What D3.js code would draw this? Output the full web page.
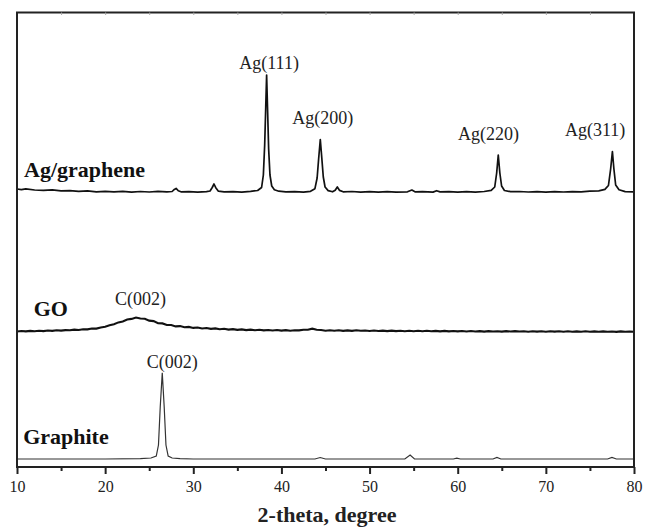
<!DOCTYPE html>
<html>
<head>
<meta charset="utf-8">
<script src="https://cdn.jsdelivr.net/npm/d3@7"></script>
<style>
  body { margin: 0; background: #fff; }
  svg { display: block; }
  svg text { font-family: "Liberation Serif", "Tinos", "Times New Roman", "Noto Serif", "DejaVu Serif", serif; }
</style>
</head>
<body>
<div id="vis"></div>
<script>
// ---------------------------------- DATA ---------------------------------------------------
// XRD patterns, intensity in arbitrary units (traces stacked as in the figure)
const X_TICKS = [10, 20, 30, 40, 50, 60, 70, 80];
const X_MINOR = [15, 25, 35, 45, 55, 65, 75];

// Ag/graphene: [2theta, intensity]
const AG_GRAPHENE = [
    [10, 278], [10.5, 277.4], [11, 278.1], [12, 277], [13, 276.6], [14, 277.1], [15, 276.2],
    [16, 276.4], [17, 275.6], [18, 276.1], [19, 275.2], [20, 275.7], [21, 275.1], [22, 275.6],
    [23, 274.9], [24, 275.5], [25, 275], [26, 275.6], [27, 275.1], [27.6, 275.5], [27.85, 277.6],
    [28.05, 278.6], [28.3, 276.2], [28.6, 275.2], [29.5, 275.4], [30.5, 274.9], [31.5, 275.3],
    [31.9, 276], [32.15, 279.5], [32.35, 283], [32.55, 279.3], [32.85, 275.8], [33.5, 275.1],
    [34.5, 275.4], [35.5, 274.9], [36.5, 275.6], [37.3, 276.5], [37.75, 279.5], [37.95, 292],
    [38.1, 322], [38.22, 360], [38.32, 392], [38.42, 360], [38.55, 318], [38.7, 292],
    [38.9, 281], [39.2, 277.2], [39.7, 275.8], [40.5, 275.1], [41.5, 275.4], [42.5, 274.9],
    [43.3, 275.7], [43.8, 278.3], [44.05, 289], [44.22, 308], [44.41, 327.5], [44.58, 309],
    [44.75, 290], [44.95, 280], [45.3, 276.4], [45.8, 275.2], [46.1, 276.8], [46.34, 280],
    [46.6, 276.6], [47, 275.2], [48, 275.5], [49, 274.9], [50, 275.4], [51, 274.8], [52, 275.3],
    [53, 274.9], [54.3, 275.2], [54.8, 277], [55.2, 275.1], [56, 275.4], [57.2, 274.9],
    [57.6, 276.3], [58, 275.1], [59, 275.4], [60, 274.8], [61, 275.3], [62, 274.9], [63, 275.5],
    [63.8, 276.6], [64.2, 280], [64.42, 294], [64.6, 312], [64.78, 294], [64.98, 281],
    [65.3, 276.5], [66, 275.3], [67, 275.5], [68, 275], [69, 275.4], [70, 274.9], [71, 275.3],
    [72, 275], [73, 275.4], [74, 275.1], [75, 275.8], [76, 276.2], [76.7, 277.6], [77.1, 281.5],
    [77.35, 298], [77.55, 315.5], [77.72, 298], [77.92, 282], [78.3, 277.3], [79, 275.4],
    [80, 275.2]
];

// GO: intensity read every 0.5 degree from 10 to 80
const GO_2THETA = d3.range(10, 80.001, 0.5);
const GO_INTENSIDAD = [
    135.5, 136.0, 135.6, 136.1, 135.8, 136.3, 135.9, 136.5, 136.1, 136.7,
    136.4, 136.9, 136.7, 137.4, 137.0, 137.8, 137.6, 138.5, 138.4, 139.5,
    140.2, 141.7, 142.8, 144.6, 145.6, 147.5, 148.1, 149.5, 148.5, 148.3,
    146.4, 145.9, 143.8, 143.6, 142.0, 142.0, 140.6, 140.9, 139.7, 140.1,
    139.1, 139.5, 138.5, 139.0, 138.1, 138.6, 137.7, 138.2, 137.4, 137.9,
    137.1, 137.6, 136.9, 137.4, 136.7, 137.2, 136.6, 137.0, 136.5, 137.0,
    136.4, 136.9, 136.3, 136.8, 136.6, 137.2, 137.2, 138.3, 137.3, 137.0,
    136.3, 136.8, 136.2, 136.7, 136.1, 136.6, 136.1, 136.7, 136.2, 136.5,
    136.0, 136.5, 136.0, 136.4, 135.9, 136.4, 135.9, 136.3, 135.8, 136.3,
    135.8, 136.2, 135.7, 136.2, 135.7, 136.1, 135.6, 136.1, 135.6, 136.0,
    135.6, 136.0, 135.5, 136.0, 135.5, 135.9, 135.4, 135.9, 135.5, 135.8,
    135.4, 135.9, 135.5, 135.9, 135.5, 135.8, 135.3, 135.8, 135.4, 135.7,
    135.3, 135.8, 135.4, 135.7, 135.3, 135.7, 135.3, 135.6, 135.2, 135.7,
    135.3, 135.6, 135.2, 135.6, 135.2, 135.5, 135.1, 135.6, 135.2, 135.5,
    135.3
];

// Graphite: [2theta, intensity]
const GRAPHITE = [
    [10, 8], [15, 8], [20, 8], [24, 8.3], [25.2, 9], [25.8, 11], [26.05, 22], [26.25, 60],
    [26.48, 94.3], [26.7, 60], [26.9, 22], [27.15, 11], [27.6, 9], [28.5, 8.3], [30, 8],
    [35, 8], [40, 8], [43.8, 8], [44.4, 9.5], [45, 8], [50, 8], [54, 8], [54.6, 12], [55.1, 8],
    [59.5, 8], [59.9, 8.8], [60.3, 8], [64, 8], [64.45, 9.6], [64.9, 8], [77, 8], [77.5, 9.5],
    [78, 8], [80, 8]
];

// Peak labels: [2theta of label centre, intensity of label baseline, text]
const ETIQUETAS_PICOS = [
    [38.6, 398.5, "Ag(111)"],
    [44.7, 343, "Ag(200)"],
    [63.5, 327, "Ag(220)"],
    [75.6, 331, "Ag(311)"],
    [24.0, 162, "C(002)"],
    [27.6, 98.7, "C(002)"]
];

// Sample labels: [2theta of left edge, intensity of baseline, text]
const ETIQUETAS_MUESTRAS = [
    [10.8, 290, "Ag/graphene"],
    [11.9, 151, "GO"],
    [10.7, 23, "Graphite"]
];

// ---------------------------------- CHART --------------------------------------------------
const WIDTH = 646;
const HEIGHT = 528;
const MARGIN = { left: 17, right: 12, top: 12.5, bottom: 61 };

const SVG = d3.select("#vis").append("svg")
    .attr("width", WIDTH)
    .attr("height", HEIGHT);

const escalaX = d3.scaleLinear()
    .domain([10, 80])
    .range([MARGIN.left, WIDTH - MARGIN.right]);

const escalaY = d3.scaleLinear()
    .domain([0, HEIGHT - MARGIN.bottom - MARGIN.top])
    .range([HEIGHT - MARGIN.bottom, MARGIN.top]);

const linea = d3.line()
    .x(d => escalaX(d[0]))
    .y(d => escalaY(d[1]));

// traces
SVG.append("path")
    .datum(GRAPHITE)
    .attr("d", linea)
    .attr("fill", "none")
    .attr("stroke", "#333")
    .attr("stroke-width", 1.2);

SVG.append("path")
    .datum(GO_2THETA.map((x, i) => [x, GO_INTENSIDAD[i]]))
    .attr("d", linea)
    .attr("fill", "none")
    .attr("stroke", "#111")
    .attr("stroke-width", 2.1);

SVG.append("path")
    .datum(AG_GRAPHENE)
    .attr("d", linea)
    .attr("fill", "none")
    .attr("stroke", "#111")
    .attr("stroke-width", 1.7)
    .attr("stroke-linejoin", "round");

// frame
SVG.append("rect")
    .attr("x", MARGIN.left)
    .attr("y", MARGIN.top)
    .attr("width", WIDTH - MARGIN.left - MARGIN.right)
    .attr("height", HEIGHT - MARGIN.top - MARGIN.bottom)
    .attr("fill", "none")
    .attr("stroke", "#222")
    .attr("stroke-width", 2);

// bottom axis
const ejeX = SVG.append("g")
    .attr("transform", `translate(0,${HEIGHT - MARGIN.bottom})`)
    .call(d3.axisBottom(escalaX).tickValues(X_TICKS).tickSize(7).tickPadding(7).tickSizeOuter(0));

ejeX.attr("font-family", null);
ejeX.select(".domain").remove();
ejeX.selectAll(".tick line").attr("stroke", "#222").attr("stroke-width", 2);
ejeX.selectAll(".tick text")
    .attr("font-size", "16px")
    .attr("fill", "#222");

SVG.append("g")
    .attr("transform", `translate(0,${HEIGHT - MARGIN.bottom})`)
    .call(d3.axisBottom(escalaX).tickValues(X_MINOR).tickSize(4).tickFormat(""))
    .call(g => g.select(".domain").remove())
    .call(g => g.selectAll(".tick line").attr("stroke", "#222").attr("stroke-width", 2));

// faint inner ticks on top
SVG.append("g")
    .attr("transform", `translate(0,${MARGIN.top})`)
    .call(d3.axisBottom(escalaX).tickValues(X_MINOR.concat(X_TICKS.slice(1, -1))).tickSize(2.5).tickFormat(""))
    .call(g => g.select(".domain").remove())
    .call(g => g.selectAll(".tick line").attr("stroke", "#aaa").attr("stroke-width", 1));

SVG.append("text")
    .attr("x", 327)
    .attr("y", 522)
    .attr("text-anchor", "middle")
    .attr("font-size", "22px")
    .attr("font-weight", "bold")
    .attr("fill", "#222")
    .text("2-theta, degree");

// labels
SVG.selectAll(".pico")
    .data(ETIQUETAS_PICOS)
    .enter()
    .append("text")
    .attr("class", "pico")
    .attr("x", d => escalaX(d[0]))
    .attr("y", d => escalaY(d[1]))
    .attr("text-anchor", "middle")
    .attr("font-size", "18px")
    .attr("fill", "#222")
    .text(d => d[2]);

SVG.selectAll(".muestra")
    .data(ETIQUETAS_MUESTRAS)
    .enter()
    .append("text")
    .attr("class", "muestra")
    .attr("x", d => escalaX(d[0]))
    .attr("y", d => escalaY(d[1]))
    .attr("font-size", "22px")
    .attr("font-weight", "bold")
    .attr("fill", "#111")
    .text(d => d[2]);
</script>
</body>
</html>
